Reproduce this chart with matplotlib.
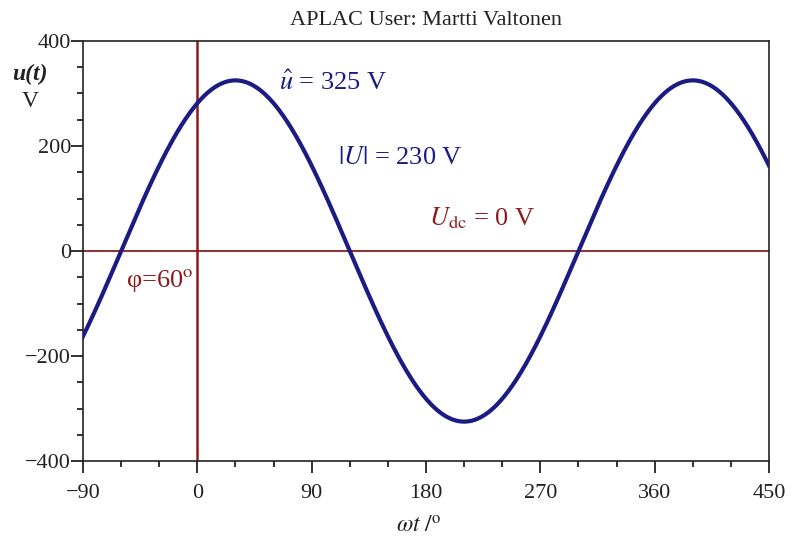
import numpy as np
import matplotlib
matplotlib.use("Agg")
import matplotlib.pyplot as plt
from matplotlib.ticker import MultipleLocator

# Signal parameters
amplitude_v = 325.0      # peak value
rms_v = 230.0            # effective value
dc_v = 0.0               # DC offset
phase_deg = 60.0         # phase angle

x_ticks = [-90, 0, 90, 180, 270, 360, 450]
y_ticks = [-400, -200, 0, 200, 400]

plt.rcParams["font.family"] = ["Liberation Serif", "DejaVu Serif"]
plt.rcParams["mathtext.fontset"] = "stix"

navy = "#1b1b84"
dred = "#8c1c1c"
ink = "#222222"

fig = plt.figure(figsize=(7.92, 5.38), dpi=100)
ax = fig.add_axes([0.1048, 0.1431, 0.8662, 0.7807])

wt = np.linspace(-90, 450, 1200)
u = dc_v + amplitude_v * np.sin(np.radians(wt + phase_deg))

ax.axhline(dc_v, color=dred, lw=1.3, zorder=1)
ax.axvline(0, color=dred, lw=1.8, zorder=1)
ax.plot(wt, u, color=navy, lw=3.0, zorder=3)

ax.set_xlim(-90, 450)
ax.set_ylim(-400, 400)
ax.set_xticks(x_ticks)
ax.set_yticks(y_ticks)
ax.set_xticklabels([("\u2212" + str(-t)) if t < 0 else str(t) for t in x_ticks])
ax.set_yticklabels([("\u2212" + str(-t)) if t < 0 else str(t) for t in y_ticks])
ax.xaxis.set_minor_locator(MultipleLocator(30))
ax.yaxis.set_minor_locator(MultipleLocator(50))
ax.tick_params(axis="both", which="major", direction="out", length=8.5, width=1.3,
               labelsize=16, colors=ink)
ax.tick_params(axis="both", which="minor", direction="out", length=4, width=1.3,
               colors=ink)
ax.tick_params(axis="x", which="major", pad=8)
ax.tick_params(axis="y", which="major", pad=0)
for s in ax.spines.values():
    s.set_linewidth(1.2)
    s.set_color(ink)

fig.text(0.538, 0.962, "APLAC User: Martti Valtonen", ha="center", va="center",
         fontsize=16, color=ink)
fig.text(0.038, 0.862, "u(t)", ha="center", va="center", fontsize=17,
         fontweight="bold", fontstyle="italic", color=ink)
fig.text(0.038, 0.812, "V", ha="center", va="center", fontsize=17, color=ink)
fig.text(0.528, 0.020, r"$\omega\mathit{t}\ /^{\rm o}$", ha="center", va="center",
         fontsize=17, color=ink)

ax.text(0.286, 0.902, r"$\hat{u}$ = %d V" % amplitude_v, transform=ax.transAxes,
        fontsize=19, color=navy, va="center", ha="left")
ax.text(0.372, 0.722, r"$|U|$ = %d V" % rms_v, transform=ax.transAxes,
        fontsize=19, color=navy, va="center", ha="left")
ax.text(0.505, 0.577, r"$U_{\rm dc}$ = %d V" % dc_v, transform=ax.transAxes,
        fontsize=19, color=dred, va="center", ha="left")
ax.text(0.062, 0.430, r"φ=%d$^{\rm o}$" % phase_deg, transform=ax.transAxes,
        fontsize=19, color=dred, va="center", ha="left")

fig.savefig("out.png", dpi=100)
